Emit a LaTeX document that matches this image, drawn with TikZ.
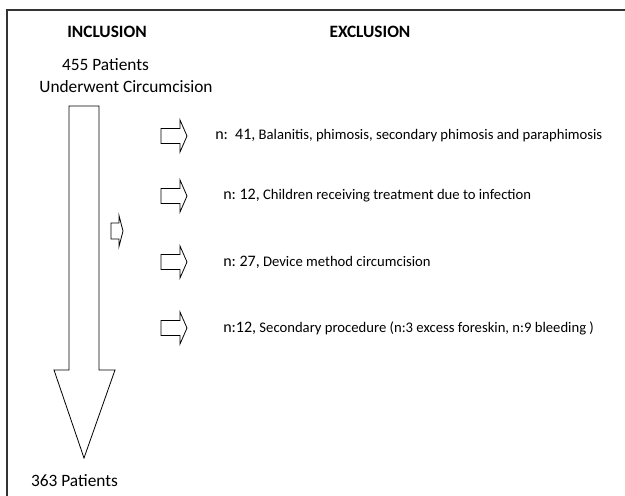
\documentclass[tikz,border=0pt]{standalone}
\usepackage{fontspec}
\setmainfont{Carlito}

\tikzset{
    header/.style={font=\fontsize{13}{15.5}\selectfont\bfseries},
    count/.style={font=\fontsize{13}{15.5}\selectfont},
    reason/.style={anchor=west, inner sep=0pt, font=\fontsize{11}{13}\selectfont\frenchspacing},
    outline/.style={draw=black, line width=0.6pt, line join=miter},
    exarrow/.pic={
        \draw[outline] (-13,-7.5) -- (6,-7.5) -- (6,-16) -- (13,0) -- (6,16) -- (6,7.5) -- (-13,7.5) -- cycle;
    }
}
\newcommand{\nsize}{\fontsize{12}{14.5}\selectfont}

\begin{document}
\begin{tikzpicture}[x=0.75pt,y=-0.75pt]
    \useasboundingbox (0,0) rectangle (625,496);

    % Define the positions of the labels
    \coordinate (inclPos) at (107,32);
    \coordinate (exclPos) at (370,32);
    \coordinate (startPos) at (105.5,65);
    \coordinate (underPos) at (126,87);
    \coordinate (endPos) at (74.5,481);

    % Frame (top and left edges only)
    \draw[black!80, line width=1.2pt] (625,10) -- (7,10) -- (7,496);

    % Draw the labels
    \node[header] (incl) at (inclPos) {INCLUSION};
    \node[header] (excl) at (exclPos) {EXCLUSION};
    \node[count] (start) at (startPos) {455 Patients};
    \node[count] (under) at (underPos) {Underwent Circumcision};
    \node[count] (end) at (endPos) {363 Patients};

    % Draw the main arrow
    \draw[outline] (69,106) -- (99,106) -- (99,370) -- (115,370) -- (84,458)
        -- (54,370) -- (69,370) -- cycle;
    \draw[outline] (111,223) -- (119,223) -- (119,215.5) -- (123,231)
        -- (119,246.5) -- (119,239) -- (111,239) -- cycle;

    % Exclusions
    \foreach \y in {136,196,262,328}
        \pic at (174,\y) {exarrow};
    \node[reason] (balan) at (215,136) {{\nsize n:\ \ 41,} Balanitis, phimosis, secondary phimosis and paraphimosis};
    \node[reason] (child) at (223,196) {{\nsize n: 12,} Children receiving treatment due to infection};
    \node[reason] (device) at (223,262) {{\nsize n: 27,} Device method circumcision};
    \node[reason] (second) at (223,328) {{\nsize n:12,} Secondary procedure (n:3 excess foreskin, n:9 bleeding )};
\end{tikzpicture}
\end{document}
